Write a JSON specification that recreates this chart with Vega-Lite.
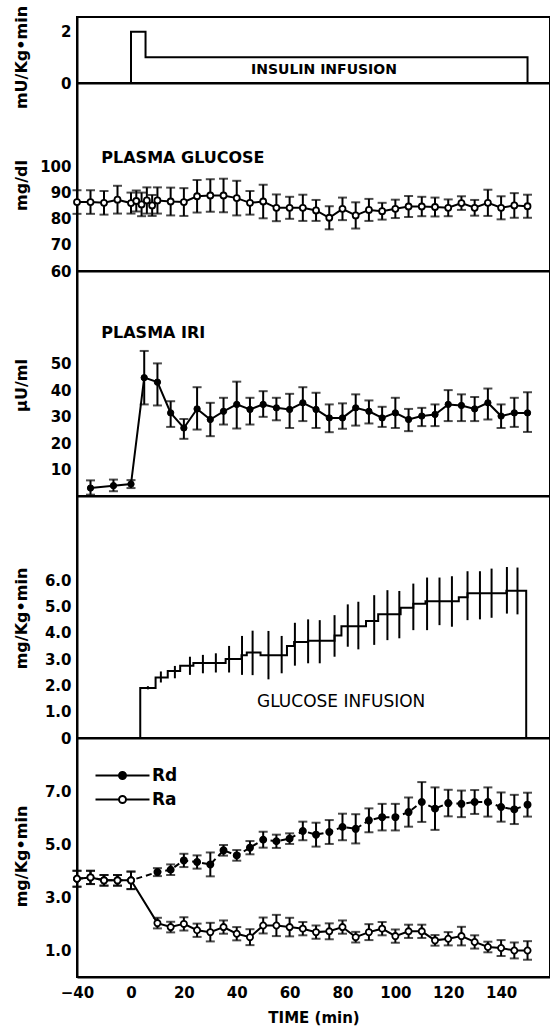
{
  "$schema": "https://vega.github.io/schema/vega-lite/v6.json",
  "padding": {"left": 12, "top": 4, "right": 0, "bottom": 0},
  "bounds": "flush",
  "spacing": 0,
  "background": "white",
  "resolve": {"legend": {"fill": "independent"}},
  "datasets": {
    "insulin": [
      {"i": 0, "t": 0, "v": 0}, {"i": 1, "t": 0, "v": 2}, {"i": 2, "t": 5.5, "v": 1}, {"i": 3, "t": 150, "v": 1}, {"i": 4, "t": 150, "v": 0}
    ],
    "glucose": [
      {"t": -40, "v": 86.3, "lo": 81.8, "hi": 90.8}, {"t": -30, "v": 86.3, "lo": 81.8, "hi": 90.8}, {"t": -20, "v": 86.0, "lo": 81.5, "hi": 90.5}, {"t": -10, "v": 87.2, "lo": 81.9, "hi": 92.5}, {"t": 0, "v": 85.9, "lo": 81.9, "hi": 89.9},
      {"t": 2, "v": 86.7, "lo": 82.7, "hi": 90.7}, {"t": 4, "v": 85.4, "lo": 80.9, "hi": 89.9}, {"t": 6, "v": 86.9, "lo": 81.9, "hi": 91.9}, {"t": 8, "v": 85.0, "lo": 81.0, "hi": 89.0}, {"t": 10, "v": 86.9, "lo": 81.9, "hi": 91.9},
      {"t": 15, "v": 86.5, "lo": 81.2, "hi": 91.8}, {"t": 20, "v": 86.3, "lo": 81.0, "hi": 91.6}, {"t": 25, "v": 88.5, "lo": 82.3, "hi": 94.7}, {"t": 30, "v": 88.8, "lo": 82.6, "hi": 95.0}, {"t": 35, "v": 88.8, "lo": 82.4, "hi": 95.2},
      {"t": 40, "v": 87.8, "lo": 81.2, "hi": 94.4}, {"t": 45, "v": 86.0, "lo": 81.5, "hi": 90.5}, {"t": 50, "v": 86.5, "lo": 80.1, "hi": 92.9}, {"t": 55, "v": 84.1, "lo": 79.0, "hi": 89.2}, {"t": 60, "v": 84.1, "lo": 79.9, "hi": 88.3},
      {"t": 65, "v": 84.1, "lo": 79.1, "hi": 89.1}, {"t": 70, "v": 83.1, "lo": 79.1, "hi": 87.1}, {"t": 75, "v": 80.3, "lo": 75.9, "hi": 84.7}, {"t": 80, "v": 83.7, "lo": 79.4, "hi": 88.0}, {"t": 85, "v": 81.2, "lo": 76.2, "hi": 86.2},
      {"t": 90, "v": 83.3, "lo": 79.1, "hi": 87.5}, {"t": 95, "v": 82.8, "lo": 79.6, "hi": 86.0}, {"t": 100, "v": 83.7, "lo": 80.2, "hi": 87.2}, {"t": 105, "v": 84.6, "lo": 80.6, "hi": 88.6}, {"t": 110, "v": 84.6, "lo": 80.9, "hi": 88.3},
      {"t": 115, "v": 84.4, "lo": 80.8, "hi": 88.0}, {"t": 120, "v": 84.1, "lo": 80.9, "hi": 87.3}, {"t": 125, "v": 85.9, "lo": 83.3, "hi": 88.5}, {"t": 130, "v": 84.1, "lo": 81.1, "hi": 87.1}, {"t": 135, "v": 86.0, "lo": 81.0, "hi": 91.0},
      {"t": 140, "v": 84.1, "lo": 79.7, "hi": 88.5}, {"t": 145, "v": 85.0, "lo": 80.3, "hi": 89.7}, {"t": 150, "v": 84.7, "lo": 80.3, "hi": 89.1}
    ],
    "iri": [
      {"t": -30, "v": 3.0, "lo": 0.5, "hi": 5.9}, {"t": -13, "v": 3.9, "lo": 1.8, "hi": 6.2}, {"t": 0, "v": 4.5, "lo": 3.0, "hi": 6.0},
      {"t": 5, "v": 44.7, "lo": 34.6, "hi": 54.8}, {"t": 10, "v": 43.0, "lo": 34.2, "hi": 50.1}, {"t": 15, "v": 31.4, "lo": 26.1, "hi": 35.8}, {"t": 20, "v": 25.7, "lo": 21.6, "hi": 29.1}, {"t": 25, "v": 32.9, "lo": 25.1, "hi": 41.1},
      {"t": 30, "v": 28.9, "lo": 22.6, "hi": 35.2}, {"t": 35, "v": 32.0, "lo": 27.0, "hi": 37.1}, {"t": 40, "v": 34.6, "lo": 25.5, "hi": 43.2}, {"t": 45, "v": 32.7, "lo": 27.0, "hi": 37.1}, {"t": 50, "v": 34.6, "lo": 29.9, "hi": 39.6},
      {"t": 55, "v": 33.3, "lo": 28.6, "hi": 37.1}, {"t": 60, "v": 32.7, "lo": 25.7, "hi": 38.6}, {"t": 65, "v": 35.2, "lo": 28.3, "hi": 41.1}, {"t": 70, "v": 32.7, "lo": 25.7, "hi": 39.0}, {"t": 75, "v": 29.5, "lo": 24.1, "hi": 34.6},
      {"t": 80, "v": 29.5, "lo": 25.4, "hi": 35.0}, {"t": 85, "v": 33.3, "lo": 26.6, "hi": 38.4}, {"t": 90, "v": 32.0, "lo": 27.4, "hi": 36.1}, {"t": 95, "v": 29.5, "lo": 26.1, "hi": 33.7}, {"t": 100, "v": 31.4, "lo": 25.7, "hi": 37.1},
      {"t": 105, "v": 28.9, "lo": 24.5, "hi": 32.9}, {"t": 110, "v": 30.2, "lo": 26.4, "hi": 33.3}, {"t": 115, "v": 30.8, "lo": 26.4, "hi": 34.6}, {"t": 120, "v": 34.6, "lo": 28.3, "hi": 40.0}, {"t": 125, "v": 34.2, "lo": 28.3, "hi": 38.4},
      {"t": 130, "v": 32.9, "lo": 28.3, "hi": 37.4}, {"t": 135, "v": 35.2, "lo": 28.9, "hi": 40.6}, {"t": 140, "v": 30.2, "lo": 25.7, "hi": 34.6}, {"t": 145, "v": 31.4, "lo": 26.1, "hi": 37.1}, {"t": 150, "v": 31.4, "lo": 24.2, "hi": 39.2}
    ],
    "ginf": [
      {"i": 0, "t": 3.5, "v": 0}, {"i": 1, "t": 3.5, "v": 1.9}, {"i": 2, "t": 9.3, "v": 2.3}, {"i": 3, "t": 13.9, "v": 2.55}, {"i": 4, "t": 18.6, "v": 2.75},
      {"i": 5, "t": 23.6, "v": 2.85}, {"i": 6, "t": 35.8, "v": 3.0}, {"i": 7, "t": 41.8, "v": 3.15}, {"i": 8, "t": 43.8, "v": 3.25}, {"i": 9, "t": 49, "v": 3.15},
      {"i": 10, "t": 59, "v": 3.5}, {"i": 11, "t": 61.7, "v": 3.65}, {"i": 12, "t": 67, "v": 3.7}, {"i": 13, "t": 77, "v": 3.9}, {"i": 14, "t": 79.6, "v": 4.25},
      {"i": 15, "t": 88.9, "v": 4.45}, {"i": 16, "t": 93.5, "v": 4.7}, {"i": 17, "t": 102, "v": 4.95}, {"i": 18, "t": 106.8, "v": 5.1}, {"i": 19, "t": 111.4, "v": 5.2},
      {"i": 20, "t": 124, "v": 5.35}, {"i": 21, "t": 127.3, "v": 5.5}, {"i": 22, "t": 142, "v": 5.6}, {"i": 23, "t": 149.5, "v": 0}
    ],
    "ginf_err": [
      {"t": 6.4, "lo": 1.85, "hi": 1.97}, {"t": 11.3, "lo": 2.11, "hi": 2.53}, {"t": 16.6, "lo": 2.27, "hi": 2.74}, {"t": 22.3, "lo": 2.40, "hi": 3.09}, {"t": 27.2, "lo": 2.46, "hi": 3.16},
      {"t": 32.1, "lo": 2.49, "hi": 3.22}, {"t": 37.1, "lo": 2.49, "hi": 3.50}, {"t": 42, "lo": 2.40, "hi": 3.88}, {"t": 46, "lo": 2.39, "hi": 4.08}, {"t": 52, "lo": 2.23, "hi": 4.07},
      {"t": 57, "lo": 2.46, "hi": 3.88}, {"t": 62, "lo": 2.75, "hi": 4.38}, {"t": 67, "lo": 2.84, "hi": 4.51}, {"t": 71.4, "lo": 2.84, "hi": 4.48}, {"t": 77, "lo": 3.09, "hi": 4.67},
      {"t": 82, "lo": 3.47, "hi": 5.08}, {"t": 86, "lo": 3.37, "hi": 5.18}, {"t": 92, "lo": 3.54, "hi": 5.43}, {"t": 97, "lo": 3.72, "hi": 5.62}, {"t": 101.5, "lo": 3.79, "hi": 5.59},
      {"t": 106.8, "lo": 4.10, "hi": 5.87}, {"t": 112, "lo": 4.10, "hi": 6.10}, {"t": 116.7, "lo": 4.29, "hi": 6.10}, {"t": 121.4, "lo": 4.23, "hi": 6.15}, {"t": 127.3, "lo": 4.48, "hi": 6.34},
      {"t": 132, "lo": 4.51, "hi": 6.34}, {"t": 136.4, "lo": 4.57, "hi": 6.44}, {"t": 142.2, "lo": 4.73, "hi": 6.50}, {"t": 146.2, "lo": 4.70, "hi": 6.48}
    ],
    "turnover": [
      {"series": "Rd", "t": -40, "v": 3.70, "lo": 3.40, "hi": 4.00}, {"series": "Rd", "t": -30, "v": 3.75, "lo": 3.50, "hi": 4.00}, {"series": "Rd", "t": -20, "v": 3.64, "lo": 3.44, "hi": 3.84}, {"series": "Rd", "t": -10, "v": 3.64, "lo": 3.44, "hi": 3.84}, {"series": "Rd", "t": 0, "v": 3.64, "lo": 3.31, "hi": 3.97},
      {"series": "Rd", "t": 10, "v": 3.95, "lo": 3.80, "hi": 4.10}, {"series": "Rd", "t": 15, "v": 4.04, "lo": 3.84, "hi": 4.24}, {"series": "Rd", "t": 20, "v": 4.39, "lo": 4.14, "hi": 4.64}, {"series": "Rd", "t": 25, "v": 4.33, "lo": 4.08, "hi": 4.58}, {"series": "Rd", "t": 30, "v": 4.24, "lo": 3.79, "hi": 4.69},
      {"series": "Rd", "t": 35, "v": 4.77, "lo": 4.57, "hi": 4.97}, {"series": "Rd", "t": 40, "v": 4.58, "lo": 4.38, "hi": 4.78}, {"series": "Rd", "t": 45, "v": 4.87, "lo": 4.62, "hi": 5.12}, {"series": "Rd", "t": 50, "v": 5.17, "lo": 4.87, "hi": 5.47}, {"series": "Rd", "t": 55, "v": 5.11, "lo": 4.86, "hi": 5.36},
      {"series": "Rd", "t": 60, "v": 5.21, "lo": 5.01, "hi": 5.41}, {"series": "Rd", "t": 65, "v": 5.50, "lo": 5.15, "hi": 5.85}, {"series": "Rd", "t": 70, "v": 5.36, "lo": 4.91, "hi": 5.81}, {"series": "Rd", "t": 75, "v": 5.46, "lo": 5.01, "hi": 5.91}, {"series": "Rd", "t": 80, "v": 5.65, "lo": 5.15, "hi": 6.15},
      {"series": "Rd", "t": 85, "v": 5.58, "lo": 5.03, "hi": 6.13}, {"series": "Rd", "t": 90, "v": 5.90, "lo": 5.45, "hi": 6.35}, {"series": "Rd", "t": 95, "v": 6.02, "lo": 5.52, "hi": 6.52}, {"series": "Rd", "t": 100, "v": 6.02, "lo": 5.52, "hi": 6.52}, {"series": "Rd", "t": 105, "v": 6.21, "lo": 5.66, "hi": 6.76},
      {"series": "Rd", "t": 110, "v": 6.59, "lo": 5.84, "hi": 7.34}, {"series": "Rd", "t": 115, "v": 6.34, "lo": 5.54, "hi": 7.14}, {"series": "Rd", "t": 120, "v": 6.55, "lo": 6.05, "hi": 7.05}, {"series": "Rd", "t": 125, "v": 6.52, "lo": 6.02, "hi": 7.02}, {"series": "Rd", "t": 130, "v": 6.59, "lo": 6.14, "hi": 7.04},
      {"series": "Rd", "t": 135, "v": 6.59, "lo": 6.04, "hi": 7.14}, {"series": "Rd", "t": 140, "v": 6.40, "lo": 5.85, "hi": 6.95}, {"series": "Rd", "t": 145, "v": 6.31, "lo": 5.76, "hi": 6.86}, {"series": "Rd", "t": 150, "v": 6.49, "lo": 6.04, "hi": 6.94},
      {"series": "Ra", "t": -40, "v": 3.70, "lo": 3.40, "hi": 4.00}, {"series": "Ra", "t": -30, "v": 3.75, "lo": 3.50, "hi": 4.00}, {"series": "Ra", "t": -20, "v": 3.64, "lo": 3.44, "hi": 3.84}, {"series": "Ra", "t": -10, "v": 3.64, "lo": 3.44, "hi": 3.84}, {"series": "Ra", "t": 0, "v": 3.64, "lo": 3.31, "hi": 3.97},
      {"series": "Ra", "t": 10, "v": 2.03, "lo": 1.83, "hi": 2.23}, {"series": "Ra", "t": 15, "v": 1.88, "lo": 1.68, "hi": 2.08}, {"series": "Ra", "t": 20, "v": 2.00, "lo": 1.75, "hi": 2.25}, {"series": "Ra", "t": 25, "v": 1.76, "lo": 1.51, "hi": 2.01}, {"series": "Ra", "t": 30, "v": 1.69, "lo": 1.34, "hi": 2.04},
      {"series": "Ra", "t": 35, "v": 1.88, "lo": 1.63, "hi": 2.13}, {"series": "Ra", "t": 40, "v": 1.63, "lo": 1.38, "hi": 1.88}, {"series": "Ra", "t": 45, "v": 1.50, "lo": 1.20, "hi": 1.80}, {"series": "Ra", "t": 50, "v": 1.94, "lo": 1.64, "hi": 2.24}, {"series": "Ra", "t": 55, "v": 1.94, "lo": 1.54, "hi": 2.34},
      {"series": "Ra", "t": 60, "v": 1.88, "lo": 1.53, "hi": 2.23}, {"series": "Ra", "t": 65, "v": 1.82, "lo": 1.57, "hi": 2.07}, {"series": "Ra", "t": 70, "v": 1.69, "lo": 1.44, "hi": 1.94}, {"series": "Ra", "t": 75, "v": 1.72, "lo": 1.42, "hi": 2.02}, {"series": "Ra", "t": 80, "v": 1.88, "lo": 1.63, "hi": 2.13},
      {"series": "Ra", "t": 85, "v": 1.50, "lo": 1.30, "hi": 1.70}, {"series": "Ra", "t": 90, "v": 1.69, "lo": 1.39, "hi": 1.99}, {"series": "Ra", "t": 95, "v": 1.82, "lo": 1.57, "hi": 2.07}, {"series": "Ra", "t": 100, "v": 1.54, "lo": 1.29, "hi": 1.79}, {"series": "Ra", "t": 105, "v": 1.72, "lo": 1.47, "hi": 1.97},
      {"series": "Ra", "t": 110, "v": 1.72, "lo": 1.47, "hi": 1.97}, {"series": "Ra", "t": 115, "v": 1.38, "lo": 1.18, "hi": 1.58}, {"series": "Ra", "t": 120, "v": 1.44, "lo": 1.19, "hi": 1.69}, {"series": "Ra", "t": 125, "v": 1.54, "lo": 1.19, "hi": 1.89}, {"series": "Ra", "t": 130, "v": 1.32, "lo": 1.07, "hi": 1.57},
      {"series": "Ra", "t": 135, "v": 1.13, "lo": 0.93, "hi": 1.33}, {"series": "Ra", "t": 140, "v": 1.09, "lo": 0.79, "hi": 1.39}, {"series": "Ra", "t": 145, "v": 1.00, "lo": 0.70, "hi": 1.30}, {"series": "Ra", "t": 150, "v": 1.00, "lo": 0.65, "hi": 1.35}
    ],
    "notes": [
      {"panel": "ins", "label": "INSULIN INFUSION", "t": 73, "v": 0.5},
      {"panel": "glu", "label": "PLASMA GLUCOSE", "t": -22, "v": 103},
      {"panel": "iri", "label": "PLASMA IRI", "t": -22, "v": 61.7},
      {"panel": "ginf", "label": "GLUCOSE INFUSION", "t": 79.5, "v": 1.37}
    ]
  },
  "vconcat": [
    {
      "width": 473, "height": 66,
      "layer": [
        {"data": {"name": "insulin"}, "mark": {"type": "line", "interpolate": "step-after", "color": "black", "strokeWidth": 2},
         "encoding": {
           "x": {"field": "t", "type": "quantitative", "scale": {"domain": [-40, 0, 158.5], "range": [0, 54, 473], "nice": false, "zero": false}, "axis": {"values": [0, 20, 40, 60, 80, 100, 120, 140], "labels": false, "ticks": false, "title": null}},
           "y": {"field": "v", "type": "quantitative", "scale": {"domain": [0, 2.57], "nice": false, "zero": false}, "axis": {"values": [0, 1, 2], "ticks": false, "labelOverlap": false, "title": "mU/Kg•min", "titleY": 40}},
           "order": {"field": "i"}}},
        {"data": {"name": "notes"}, "transform": [{"filter": "datum.panel === 'ins'"}],
         "mark": {"type": "text", "align": "center", "baseline": "middle", "font": "DejaVu Sans", "fontSize": 14, "fontWeight": "bold", "color": "black"},
         "encoding": {
           "x": {"field": "t", "type": "quantitative", "scale": {"domain": [-40, 0, 158.5], "range": [0, 54, 473], "nice": false, "zero": false}},
           "y": {"field": "v", "type": "quantitative", "scale": {"domain": [0, 2.57], "nice": false, "zero": false}},
           "text": {"field": "label"}}}
      ]
    },
    {
      "width": 473, "height": 188,
      "layer": [
        {"data": {"name": "glucose"}, "mark": {"type": "errorbar", "color": "black", "rule": {"strokeWidth": 2}, "ticks": {"size": 9, "thickness": 2}},
         "encoding": {
           "x": {"field": "t", "type": "quantitative", "scale": {"domain": [-40, 0, 158.5], "range": [0, 54, 473], "nice": false, "zero": false}, "axis": {"values": [0, 20, 40, 60, 80, 100, 120, 140], "labels": false, "ticks": false, "title": null}},
           "y": {"field": "lo", "type": "quantitative", "scale": {"domain": [60, 131.7], "nice": false, "zero": false}, "axis": {"values": [60, 70, 80, 90, 100], "ticks": false, "labelOverlap": false, "title": "mg/dl", "titleY": 102}}, "y2": {"field": "hi"}}},
        {"data": {"name": "glucose"}, "mark": {"type": "line", "color": "black", "strokeWidth": 2},
         "encoding": {
           "x": {"field": "t", "type": "quantitative", "scale": {"domain": [-40, 0, 158.5], "range": [0, 54, 473], "nice": false, "zero": false}},
           "y": {"field": "v", "type": "quantitative", "scale": {"domain": [60, 131.7], "nice": false, "zero": false}}}},
        {"data": {"name": "glucose"}, "mark": {"type": "point", "shape": "circle", "filled": true, "fill": "white", "stroke": "black", "strokeWidth": 1.8, "size": 36, "opacity": 1},
         "encoding": {
           "x": {"field": "t", "type": "quantitative", "scale": {"domain": [-40, 0, 158.5], "range": [0, 54, 473], "nice": false, "zero": false}},
           "y": {"field": "v", "type": "quantitative", "scale": {"domain": [60, 131.7], "nice": false, "zero": false}}}},
        {"data": {"name": "notes"}, "transform": [{"filter": "datum.panel === 'glu'"}],
         "mark": {"type": "text", "align": "left", "baseline": "middle", "font": "DejaVu Sans", "fontSize": 16, "fontWeight": "bold", "color": "black"},
         "encoding": {
           "x": {"field": "t", "type": "quantitative", "scale": {"domain": [-40, 0, 158.5], "range": [0, 54, 473], "nice": false, "zero": false}},
           "y": {"field": "v", "type": "quantitative", "scale": {"domain": [60, 131.7], "nice": false, "zero": false}},
           "text": {"field": "label"}}}
      ]
    },
    {
      "width": 473, "height": 225,
      "layer": [
        {"data": {"name": "iri"}, "mark": {"type": "errorbar", "color": "black", "rule": {"strokeWidth": 2}, "ticks": {"size": 9, "thickness": 2}},
         "encoding": {
           "x": {"field": "t", "type": "quantitative", "scale": {"domain": [-40, 0, 158.5], "range": [0, 54, 473], "nice": false, "zero": false}, "axis": {"values": [0, 20, 40, 60, 80, 100, 120, 140], "labels": false, "ticks": false, "title": null}},
           "y": {"field": "lo", "type": "quantitative", "scale": {"domain": [0, 85], "nice": false, "zero": false}, "axis": {"values": [10, 20, 30, 40, 50], "ticks": false, "labelOverlap": false, "title": "μU/ml", "titleY": 114}}, "y2": {"field": "hi"}}},
        {"data": {"name": "iri"}, "mark": {"type": "line", "color": "black", "strokeWidth": 2},
         "encoding": {
           "x": {"field": "t", "type": "quantitative", "scale": {"domain": [-40, 0, 158.5], "range": [0, 54, 473], "nice": false, "zero": false}},
           "y": {"field": "v", "type": "quantitative", "scale": {"domain": [0, 85], "nice": false, "zero": false}}}},
        {"data": {"name": "iri"}, "mark": {"type": "point", "shape": "circle", "filled": true, "fill": "black", "stroke": "black", "strokeWidth": 1, "size": 40, "opacity": 1},
         "encoding": {
           "x": {"field": "t", "type": "quantitative", "scale": {"domain": [-40, 0, 158.5], "range": [0, 54, 473], "nice": false, "zero": false}},
           "y": {"field": "v", "type": "quantitative", "scale": {"domain": [0, 85], "nice": false, "zero": false}}}},
        {"data": {"name": "notes"}, "transform": [{"filter": "datum.panel === 'iri'"}],
         "mark": {"type": "text", "align": "left", "baseline": "middle", "font": "DejaVu Sans", "fontSize": 16, "fontWeight": "bold", "color": "black"},
         "encoding": {
           "x": {"field": "t", "type": "quantitative", "scale": {"domain": [-40, 0, 158.5], "range": [0, 54, 473], "nice": false, "zero": false}},
           "y": {"field": "v", "type": "quantitative", "scale": {"domain": [0, 85], "nice": false, "zero": false}},
           "text": {"field": "label"}}}
      ]
    },
    {
      "width": 473, "height": 242,
      "layer": [
        {"data": {"name": "ginf_err"}, "mark": {"type": "rule", "color": "black", "strokeWidth": 2},
         "encoding": {
           "x": {"field": "t", "type": "quantitative", "scale": {"domain": [-40, 0, 158.5], "range": [0, 54, 473], "nice": false, "zero": false}},
           "y": {"field": "lo", "type": "quantitative", "scale": {"domain": [0, 9.2], "nice": false, "zero": false}}, "y2": {"field": "hi"}}},
        {"data": {"name": "ginf"}, "mark": {"type": "line", "interpolate": "step-after", "color": "black", "strokeWidth": 2},
         "encoding": {
           "x": {"field": "t", "type": "quantitative", "scale": {"domain": [-40, 0, 158.5], "range": [0, 54, 473], "nice": false, "zero": false}, "axis": {"values": [0, 20, 40, 60, 80, 100, 120, 140], "labels": false, "ticks": false, "title": null}},
           "y": {"field": "v", "type": "quantitative", "scale": {"domain": [0, 9.2], "nice": false, "zero": false}, "axis": {"values": [0, 1, 2, 3, 4, 5, 6], "ticks": false, "labelOverlap": false, "labelExpr": "datum.value === 0 ? '0' : format(datum.value, '.1f')", "title": "mg/Kg•min", "titleY": 122}},
           "order": {"field": "i"}}},
        {"data": {"name": "notes"}, "transform": [{"filter": "datum.panel === 'ginf'"}],
         "mark": {"type": "text", "align": "center", "baseline": "middle", "font": "DejaVu Sans", "fontSize": 17, "fontWeight": "normal", "color": "black"},
         "encoding": {
           "x": {"field": "t", "type": "quantitative", "scale": {"domain": [-40, 0, 158.5], "range": [0, 54, 473], "nice": false, "zero": false}},
           "y": {"field": "v", "type": "quantitative", "scale": {"domain": [0, 9.2], "nice": false, "zero": false}},
           "text": {"field": "label"}}}
      ]
    },
    {
      "width": 473, "height": 239,
      "layer": [
        {"data": {"name": "turnover"}, "mark": {"type": "errorbar", "color": "black", "rule": {"strokeWidth": 2}, "ticks": {"size": 9, "thickness": 2}},
         "encoding": {
           "x": {"field": "t", "type": "quantitative", "scale": {"domain": [-40, 0, 158.5], "range": [0, 54, 473], "nice": false, "zero": false}, "axis": {"values": [-40, 0, 20, 40, 60, 80, 100, 120, 140], "labels": true, "ticks": false, "labelOverlap": false, "title": "TIME  (min)", "titleY": 45, "titleBaseline": "alphabetic", "titleFontSize": 15, "labelPadding": 8}},
           "y": {"field": "lo", "type": "quantitative", "scale": {"domain": [0, 9], "nice": false, "zero": false}, "axis": {"values": [1, 2, 3, 4, 5, 6, 7], "ticks": false, "labelOverlap": false, "format": ".1f", "title": "mg/Kg•min", "titleY": 118}}, "y2": {"field": "hi"}}},
        {"data": {"name": "turnover"}, "transform": [{"filter": "datum.series === 'Rd'"}], "mark": {"type": "line", "color": "black", "strokeWidth": 2, "strokeDash": [6, 4]},
         "encoding": {
           "x": {"field": "t", "type": "quantitative", "scale": {"domain": [-40, 0, 158.5], "range": [0, 54, 473], "nice": false, "zero": false}},
           "y": {"field": "v", "type": "quantitative", "scale": {"domain": [0, 9], "nice": false, "zero": false}}}},
        {"data": {"name": "turnover"}, "transform": [{"filter": "datum.series === 'Ra'"}], "mark": {"type": "line", "color": "black", "strokeWidth": 2},
         "encoding": {
           "x": {"field": "t", "type": "quantitative", "scale": {"domain": [-40, 0, 158.5], "range": [0, 54, 473], "nice": false, "zero": false}},
           "y": {"field": "v", "type": "quantitative", "scale": {"domain": [0, 9], "nice": false, "zero": false}}}},
        {"data": {"name": "turnover"}, "mark": {"type": "point", "filled": true, "stroke": "black", "strokeWidth": 1.8, "size": 38, "opacity": 1},
         "encoding": {
           "x": {"field": "t", "type": "quantitative", "scale": {"domain": [-40, 0, 158.5], "range": [0, 54, 473], "nice": false, "zero": false}},
           "y": {"field": "v", "type": "quantitative", "scale": {"domain": [0, 9], "nice": false, "zero": false}},
           "fill": {"field": "series", "type": "nominal", "scale": {"domain": ["Rd", "Ra"], "range": ["black", "white"]},
                    "legend": {"orient": "none", "legendX": 37, "legendY": 29, "title": null, "direction": "vertical", "padding": 0,
                               "labelFont": "DejaVu Sans", "labelFontSize": 17, "labelFontWeight": "bold", "labelColor": "black", "labelOffset": 21,
                               "symbolSize": 196, "rowPadding": 6, "symbolStrokeWidth": 2, "symbolStrokeColor": "black",
                               "symbolType": "M-3.857,0L-0.5,0M0.5,0L3.857,0M-0.5,0A0.5,0.5 0 1,1 0.5,0A0.5,0.5 0 1,1 -0.5,0Z"}},
           "order": {"field": "t"}}}
      ]
    }
  ],
  "config": {
    "view": {"stroke": "black", "strokeWidth": 2},
    "font": "DejaVu Sans",
    "axis": {"domainColor": "black", "domainWidth": 2, "tickColor": "black", "tickWidth": 2, "tickSize": 10, "labelColor": "black", "labelFont": "DejaVu Sans", "labelFontSize": 15, "labelFontWeight": "bold", "grid": false, "titleColor": "black", "titleFont": "DejaVu Sans", "titleFontSize": 16, "titleFontWeight": "bold", "labelOverlap": false, "labelFlush": false},
    "axisY": {"labelPadding": 6, "titleX": -51, "titleBaseline": "alphabetic", "titleAngle": -90},
    "axisX": {"labelPadding": 8}
  }
}
